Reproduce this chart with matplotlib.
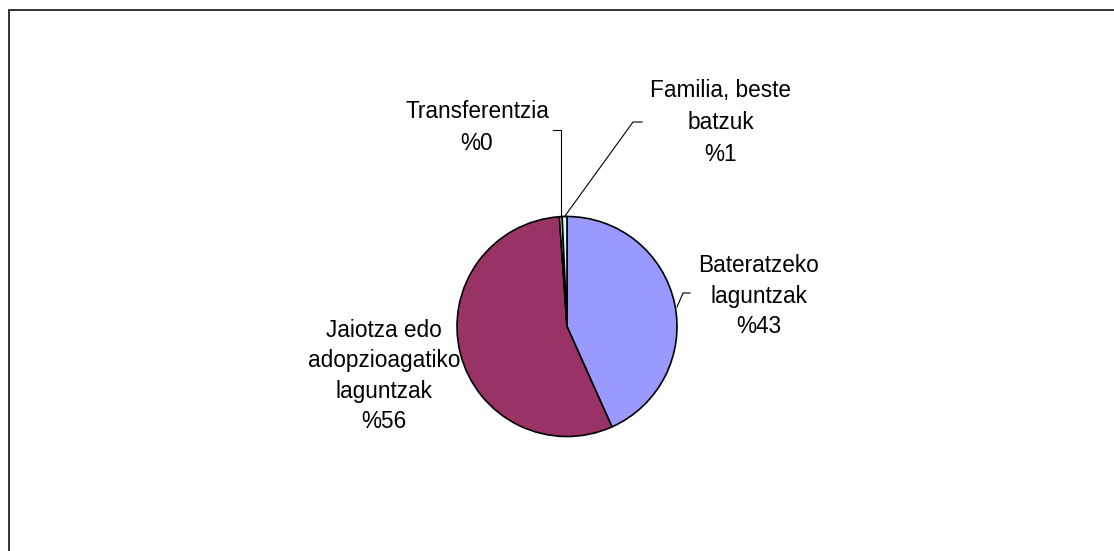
import numpy as np
import matplotlib
matplotlib.use("Agg")
import matplotlib.pyplot as plt
from matplotlib.patches import Rectangle

# ---- data ----
categories = ["Bateratzeko\nlaguntzak",
              "Jaiotza edo\nadopzioagatiko\nlaguntzak",
              "Transferentzia",
              "Familia, beste\nbatzuk"]
values = [43.3, 55.6, 0.4, 0.7]
colors = ["#9999FF", "#993366", "#FFFFCC", "#CCFFFF"]

W, H = 1114, 551
plt.rcParams['font.family'] = ['Liberation Sans', 'DejaVu Sans']

fig = plt.figure(figsize=(W / 100, H / 100), dpi=100)
ax = fig.add_axes([0, 0, 1, 1])
ax.set_xlim(0, W)
ax.set_ylim(0, H)
ax.set_aspect('equal')
ax.axis('off')

def Y(p):
    return H - p

cx, cy, r = 567, Y(326.5), 110

# frame
ax.add_patch(Rectangle((8.5, Y(H + 20)), W + 20, (H + 20) - 9.5, fill=False,
                       edgecolor="#222222", linewidth=1.3))

wedges, _ = ax.pie(values, colors=colors, startangle=90, counterclock=False,
                   center=(cx, cy), radius=r,
                   wedgeprops=dict(edgecolor="black", linewidth=1.2))
ax.set_xlim(0, W)
ax.set_ylim(0, H)

# label layout (pixel positions): center x, baseline y of first line, line step
label_pos = [
    (759, 272, 30.5),
    (384, 337, 30.5),
    (477, 118, 32),
    (721, 97, 32),
]
fs = 16.3
for i, (name, v) in enumerate(zip(categories, values)):
    lines = name.split("\n") + [f"%{v:.0f}"]
    x0, yb, step = label_pos[i]
    for k, line in enumerate(lines):
        ax.text(x0, Y(yb + k * step), line, ha='center', va='baseline',
                fontsize=fs, color='black')

def edge_point(w):
    th = np.deg2rad((w.theta1 + w.theta2) / 2)
    return cx + r * np.cos(th), cy + r * np.sin(th)

lc = dict(color='black', linewidth=0.8)
# Bateratzeko leader
ax.plot([677, 683, 690], [Y(307), Y(293), Y(293)], **lc)
# Transferentzia leader
ex, ey = edge_point(wedges[2])
ax.plot([553, ex, ex], [Y(130), Y(130), ey], **lc)
# Familia leader
ex, ey = edge_point(wedges[3])
ax.plot([ex, 633, 642], [ey, Y(122), Y(122)], **lc)

fig.savefig("out.png", dpi=100)
